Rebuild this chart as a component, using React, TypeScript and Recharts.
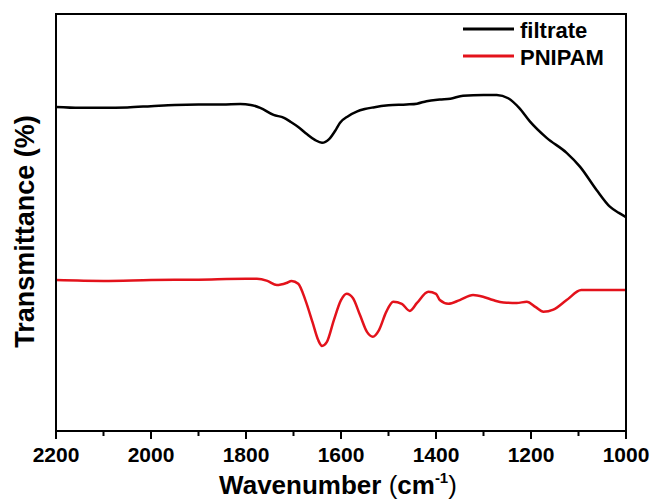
import { Line, LineChart, XAxis, YAxis } from 'recharts'

// FTIR spectra, transmittance in arbitrary units (0-100 over plot height)
const filtrateWn = [
	2200, 2150, 2100, 2050, 2000, 1950, 1900, 1850, 1812, 1790, 1770, 1742,
	1720, 1707, 1690, 1672, 1655, 1640, 1625, 1610, 1602, 1585, 1567, 1550,
	1532, 1500, 1462, 1440, 1420, 1392, 1370, 1343, 1300, 1272, 1248, 1225,
	1202, 1167, 1125, 1097, 1062, 1034, 1015, 1000,
]
const filtrateT = [
	77.7, 77.5, 77.5, 77.6, 77.9, 78.2, 78.3, 78.3, 78.4, 78.2, 77.5, 75.8,
	75.1, 74.2, 72.9, 71.2, 69.8, 69.1, 70.0, 72.4, 73.9, 75.5, 76.6, 77.2,
	77.6, 78.1, 78.3, 78.5, 79.1, 79.5, 79.7, 80.4, 80.6, 80.6, 79.8, 77.5,
	74.2, 70.3, 66.7, 63.4, 57.8, 53.8, 52.3, 51.3,
]
const pnipamWn = [
	2200, 2100, 2000, 1900, 1800, 1777, 1755, 1735, 1715, 1704, 1690, 1675,
	1660, 1648, 1640, 1630, 1615, 1600, 1588, 1575, 1560, 1545, 1533, 1520,
	1505, 1490, 1472, 1455, 1440, 1416, 1400, 1392, 1374, 1350, 1322, 1301,
	1280, 1258, 1230, 1209, 1190, 1174, 1153, 1125, 1094, 1050, 1000,
]
const pnipamT = [
	36.2, 36.0, 36.2, 36.3, 36.5, 36.5, 36.0, 35.0, 35.5, 36.0, 35.3, 31.4,
	26.1, 21.8, 20.4, 21.3, 26.6, 31.4, 32.9, 31.9, 27.8, 23.7, 22.6, 24.2,
	28.5, 31.0, 30.5, 28.8, 30.7, 33.4, 32.9, 31.4, 30.5, 31.4, 32.6, 32.2,
	31.4, 30.8, 30.7, 31.0, 29.7, 28.6, 29.1, 31.4, 33.8, 33.8, 33.8,
]

const allTicks = [2200, 2100, 2000, 1900, 1800, 1700, 1600, 1500, 1400, 1300, 1200, 1100, 1000]
const majorTicks = [2200, 2000, 1800, 1600, 1400, 1200, 1000]
const seriesNames = ['filtrate', 'PNIPAM']
const seriesColours = ['#000000', '#e3121b']

const FONT = '"Liberation Sans", Arial, sans-serif'

const W = 655
const H = 502
const MARGIN = { top: 14, right: 29, bottom: 0, left: 0 }
const Y_AXIS_W = 56
const X_AXIS_H = 71

const filtrate = filtrateWn.map((w, i) => ({ w, t: filtrateT[i] }))
const pnipam = pnipamWn.map((w, i) => ({ w, t: pnipamT[i] }))

const XTick = (props: any) => {
	const { x, y, payload } = props
	const major = majorTicks.includes(payload.value)
	return (
		<g>
			<line x1={x} x2={x} y1={y} y2={y + (major ? 8 : 5)} stroke='#000' strokeWidth={2} />
			{major && (
				<text x={x} y={y + 31} textAnchor='middle' fontSize={21} fontWeight='bold' fontFamily={FONT} fill='#000'>
					{payload.value}
				</text>
			)}
		</g>
	)
}

const XTitle = (props: any) => {
	const { viewBox } = props
	const cx = viewBox.x + viewBox.width / 2 - 3
	return (
		<text x={cx} y={viewBox.y + 63} textAnchor='middle' fontSize={26} fontWeight='bold' fontFamily={FONT} fill='#000'>
			Wavenumber <tspan fontWeight='normal'>(</tspan>cm
			<tspan fontSize={15} dy={-11}>-1</tspan>
			<tspan dy={11} fontWeight='normal'>)</tspan>
		</text>
	)
}

const YTitle = (props: any) => {
	const { viewBox } = props
	const cx = 25
	const cy = viewBox.y + viewBox.height / 2 + 9
	return (
		<text
			x={cx}
			y={cy}
			transform={`rotate(-90, ${cx}, ${cy})`}
			textAnchor='middle'
			dominantBaseline='central'
			fontSize={27}
			fontWeight='bold'
			fontFamily={FONT}
			fill='#000'
		>
			Transmittance (%)
		</text>
	)
}

const App = () => {
	const px = MARGIN.left + Y_AXIS_W
	const py = MARGIN.top
	const pw = W - px - MARGIN.right
	const ph = H - py - MARGIN.bottom - X_AXIS_H
	return (
		<div style={{ position: 'absolute', left: 0, top: 0, width: W, height: H, background: '#fff' }}>
			<LineChart width={W} height={H} margin={MARGIN}>
				<XAxis
					type='number'
					dataKey='w'
					domain={[1000, 2200]}
					reversed
					ticks={allTicks}
					interval={0}
					tick={<XTick />}
					tickLine={false}
					tickSize={0}
					tickMargin={0}
					height={X_AXIS_H}
					axisLine={{ stroke: '#000', strokeWidth: 2 }}
					label={<XTitle />}
				/>
				<YAxis
					type='number'
					domain={[0, 100]}
					tick={false}
					tickLine={false}
					width={Y_AXIS_W}
					axisLine={{ stroke: '#000', strokeWidth: 2 }}
					label={<YTitle />}
				/>
				<Line
					data={filtrate}
					dataKey='t'
					name={seriesNames[0]}
					type='monotone'
					stroke={seriesColours[0]}
					strokeWidth={2.5}
					dot={false}
					isAnimationActive={false}
				/>
				<Line
					data={pnipam}
					dataKey='t'
					name={seriesNames[1]}
					type='monotone'
					stroke={seriesColours[1]}
					strokeWidth={2.5}
					dot={false}
					isAnimationActive={false}
				/>
			</LineChart>
			{/* box around the plot area and the legend, drawn over the chart */}
			<svg
				width={W}
				height={H}
				style={{ position: 'absolute', left: 0, top: 0, pointerEvents: 'none' }}
			>
				<rect x={px} y={py} width={pw} height={ph} fill='none' stroke='#000' strokeWidth={2} />
				{seriesNames.map((name, i) => (
					<g key={name}>
						<line x1={463} x2={514} y1={29 + i * 27} y2={29 + i * 27} stroke={seriesColours[i]} strokeWidth={3} />
						<text x={520} y={38 + i * 27} fontSize={22} fontWeight='bold' fontFamily={FONT} fill='#000'>
							{name}
						</text>
					</g>
				))}
			</svg>
		</div>
	)
}

export default App
